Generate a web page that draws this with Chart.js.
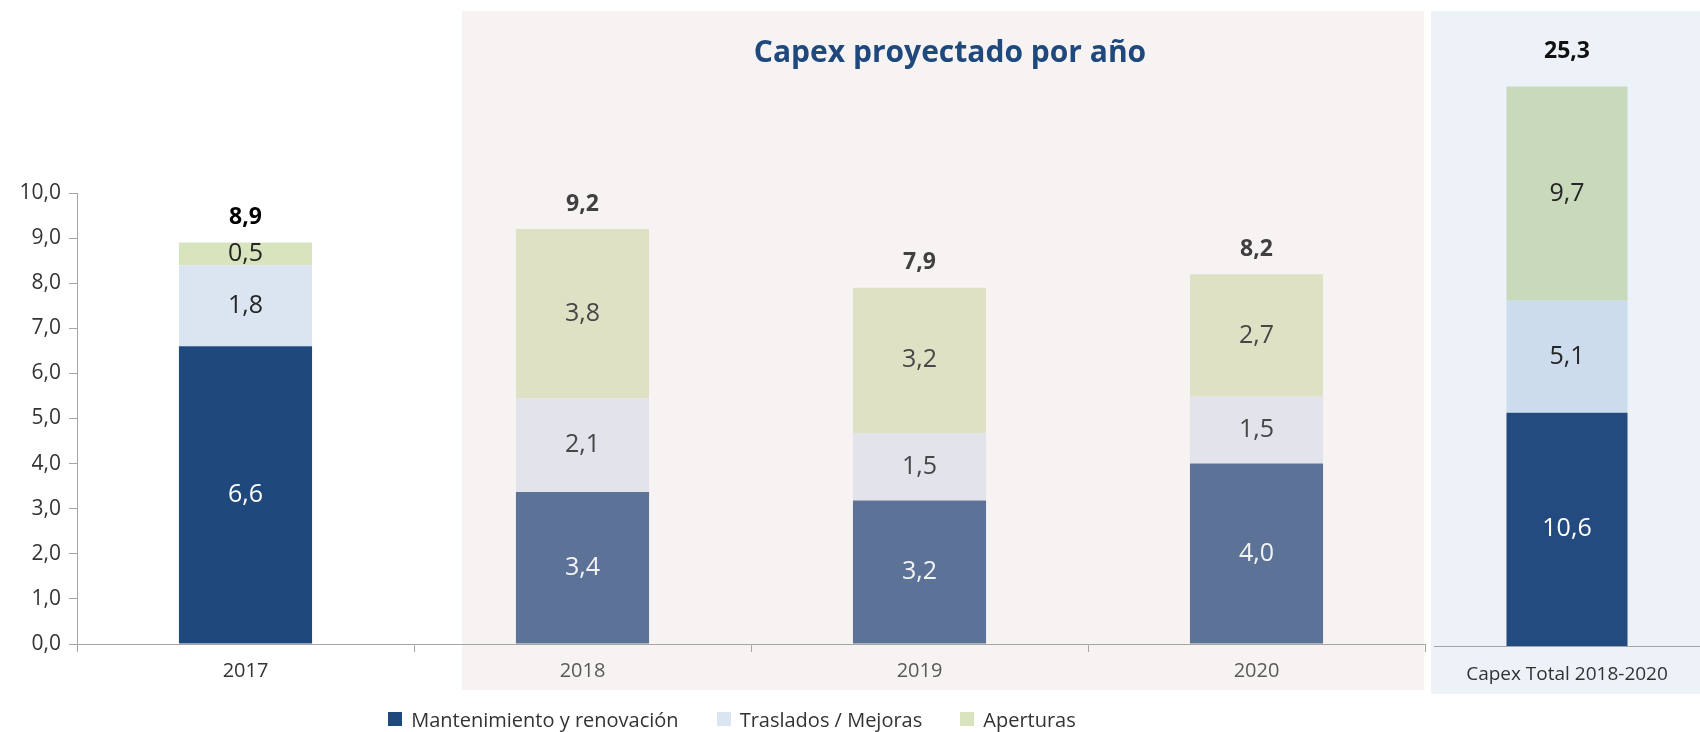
<!DOCTYPE html>
<html lang="es">
<head>
<meta charset="utf-8">
<title>Capex proyectado por año</title>
<script src="https://cdn.jsdelivr.net/npm/chart.js@4.4.1/dist/chart.umd.min.js"></script>
<style>
    html, body { margin: 0; padding: 0; background: #fff; overflow: hidden; }
    #stage { position: relative; width: 1700px; height: 732px; overflow: hidden; }
    #pink { position: absolute; left: 462px; top: 11px; width: 962px; height: 679px; background: #f8f3f3; }
    #blue { position: absolute; left: 1431px; top: 11px; width: 269px; height: 683px; background: #edf1f8; }
    #title { position: absolute; left: 462px; width: 976px; top: 30px; line-height: 42px; text-align: center;
             font: 700 30px "Open Sans", sans-serif; color: #1f497d; }
    canvas { position: absolute; top: 0; }
    #chartYears { left: 0; }
    #chartTotal { left: 1431px; }
    #legend { position: absolute; left: 0; width: 1464px; top: 705px; height: 28px;
              display: flex; justify-content: center; align-items: center; gap: 38px;
              font: 20px "Open Sans", sans-serif; color: #333; }
    #legend .item { display: flex; align-items: center; gap: 9px; white-space: nowrap; }
    #legend .box { width: 14px; height: 14px; display: inline-block; }
</style>
</head>
<body>
<div id="stage">
    <div id="pink"></div>
    <canvas id="chartYears" width="1464" height="732"></canvas>
    <div id="blue"></div>
    <canvas id="chartTotal" width="269" height="732"></canvas>
    <div id="title">Capex proyectado por año</div>
    <div id="legend"></div>
</div>
<script>
// ------------------ Datos ------------------
const anios = ['2017', '2018', '2019', '2020'];
const mantenimiento = [6.6, 3.37, 3.18, 4.0];
const traslados = [1.8, 2.08, 1.5, 1.48];
const aperturas = [0.5, 3.75, 3.22, 2.72];
const totalesAnio = [8.9, 9.2, 7.9, 8.2];

const etiquetaTotal = ['Capex Total 2018-2020'];
const mantTotal = [10.55];
const trasTotal = [5.06];
const apertTotal = [9.69];
const totalGeneral = [25.3];

// ------------------ Estilo ------------------
const FONT = 'Open Sans';
const GRIS = '#a5a5a5';
const fmt = v => v.toFixed(1).replace('.', ',');
const porIndice = arr => c => arr[c.dataIndex ?? 0];

// etiquetas dentro de cada tramo + total encima
const etiquetasPlugin = {
    id: 'etiquetas',
    afterDatasetsDraw(chart, args, opts) {
        const ctx = chart.ctx;
        ctx.save();
        ctx.textAlign = 'center';
        ctx.textBaseline = 'middle';
        ctx.font = `25px "${FONT}"`;
        chart.data.datasets.forEach((ds, i) => {
            chart.getDatasetMeta(i).data.forEach((bar, j) => {
                ctx.fillStyle = ds.labelColors[j];
                ctx.fillText(fmt(ds.data[j]), bar.x, (bar.y + bar.base) / 2);
            });
        });
        const arriba = chart.getDatasetMeta(chart.data.datasets.length - 1);
        ctx.font = `700 23px "${FONT}"`;
        arriba.data.forEach((bar, j) => {
            ctx.fillStyle = opts.colores[j];
            ctx.fillText(fmt(opts.totales[j]), bar.x, bar.y - opts.separacion);
        });
        ctx.restore();
    }
};

// ------------------ Gráfico por año ------------------
const chartAnios = new Chart(document.getElementById('chartYears'), {
    type: 'bar',
    data: {
        labels: anios,
        datasets: [{
            label: 'Mantenimiento y renovación',
            data: mantenimiento,
            backgroundColor: porIndice(['#1f487c', '#5c7296', '#5c7296', '#5c7296']),
            labelColors: ['#ffffff', '#f4f4f4', '#f4f4f4', '#f4f4f4']
        }, {
            label: 'Traslados / Mejoras',
            data: traslados,
            backgroundColor: porIndice(['#dbe5f1', '#e2e3eb', '#e2e3eb', '#e2e3eb']),
            labelColors: ['#262626', '#474747', '#474747', '#474747']
        }, {
            label: 'Aperturas',
            data: aperturas,
            backgroundColor: porIndice(['#d7e4bd', '#dfe1c5', '#dfe1c5', '#dfe1c5']),
            labelColors: ['#262626', '#474747', '#474747', '#474747']
        }]
    },
    options: {
        responsive: false,
        animation: false,
        layout: { padding: { top: 193, right: 39, left: 0, bottom: 32 } },
        datasets: { bar: { barPercentage: 0.395, categoryPercentage: 1 } },
        plugins: {
            legend: { display: false },
            tooltip: { enabled: false },
            etiquetas: { totales: totalesAnio, colores: ['#000000', '#404040', '#404040', '#404040'], separacion: 25 }
        },
        scales: {
            x: {
                stacked: true,
                grid: { offset: true, drawOnChartArea: false, tickLength: 8, color: GRIS },
                border: { color: GRIS },
                ticks: {
                    padding: 7,
                    color: c => ['#333333', '#595959', '#595959', '#595959'][c.index],
                    font: { family: FONT, size: 20 }
                },
                afterFit: s => { s.height = 56; }
            },
            y: {
                stacked: true,
                min: 0,
                max: 10,
                ticks: { stepSize: 1, padding: 8, color: '#333333', font: { family: FONT, size: 21 }, callback: v => fmt(v) },
                grid: { drawOnChartArea: false, tickLength: 8, color: GRIS },
                border: { color: GRIS },
                afterFit: s => { s.width = 77; }
            }
        }
    },
    plugins: [etiquetasPlugin]
});

// leyenda en HTML a partir de los elementos que genera Chart.js
const leyenda = document.getElementById('legend');
Chart.defaults.plugins.legend.labels.generateLabels(chartAnios).forEach(item => {
    const div = document.createElement('div');
    div.className = 'item';
    const box = document.createElement('span');
    box.className = 'box';
    box.style.background = item.fillStyle;
    const txt = document.createElement('span');
    txt.textContent = item.text;
    div.appendChild(box);
    div.appendChild(txt);
    leyenda.appendChild(div);
});

// ------------------ Gráfico total ------------------
new Chart(document.getElementById('chartTotal'), {
    type: 'bar',
    data: {
        labels: etiquetaTotal,
        datasets: [{
            label: 'Mantenimiento y renovación',
            data: mantTotal,
            backgroundColor: '#234b7f',
            labelColors: ['#ffffff']
        }, {
            label: 'Traslados / Mejoras',
            data: trasTotal,
            backgroundColor: '#ccdcec',
            labelColors: ['#262626']
        }, {
            label: 'Aperturas',
            data: apertTotal,
            backgroundColor: '#c9dabc',
            labelColors: ['#262626']
        }]
    },
    options: {
        responsive: false,
        animation: false,
        layout: { padding: { top: 49, left: 3, right: 0, bottom: 0 } },
        datasets: { bar: { barPercentage: 0.455, categoryPercentage: 1 } },
        plugins: {
            legend: { display: false },
            tooltip: { enabled: false },
            etiquetas: { totales: totalGeneral, colores: ['#111111'], separacion: 35 }
        },
        scales: {
            x: {
                stacked: true,
                grid: { drawOnChartArea: false, drawTicks: false, color: GRIS },
                border: { color: GRIS },
                ticks: { padding: 17, color: '#333333', font: { family: FONT, size: 19 } },
                afterFit: s => { s.height = 86; }
            },
            y: { stacked: true, display: false, min: 0, max: 27 }
        }
    },
    plugins: [etiquetasPlugin]
});
</script>
</body>
</html>
